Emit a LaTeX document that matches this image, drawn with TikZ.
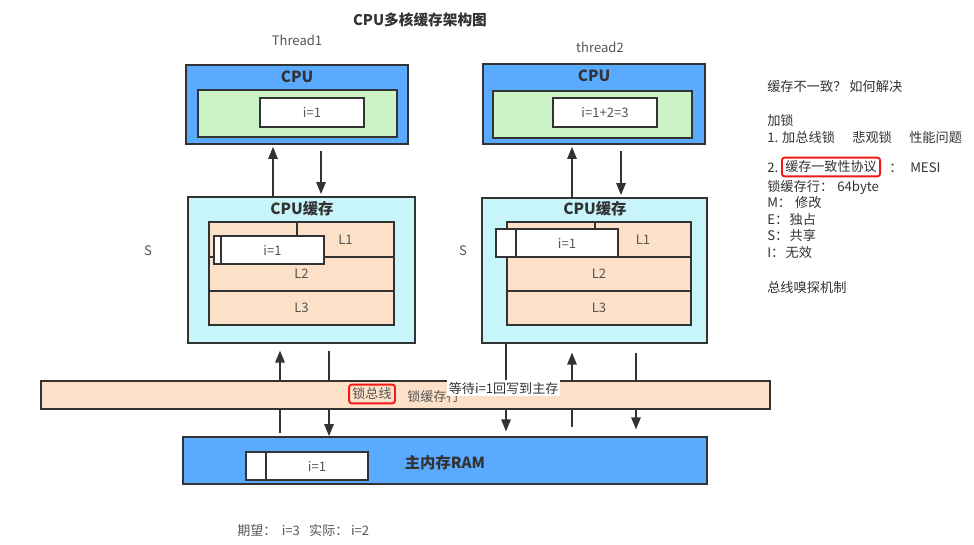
\documentclass[tikz,border=0pt]{standalone}
\usepackage{fontspec}
\setmainfont{Noto Sans CJK SC}
\usetikzlibrary{fit,arrows.meta}
\definecolor{cpublue}{HTML}{5AABFF}
\definecolor{cpugreen}{HTML}{CCF2C8}
\definecolor{cachecyan}{HTML}{C8F5FA}
\definecolor{lorange}{HTML}{FCE1C8}
\definecolor{edge}{HTML}{333333}
\definecolor{tgrey}{HTML}{555555}
\definecolor{tdark}{HTML}{333333}
\definecolor{mark}{HTML}{F01818}
\tikzset{
  box/.style={draw=edge, line width=1.3pt, inner sep=0pt},
  arr/.style={draw=edge, line width=1.3pt, -{Triangle[length=9pt,width=7pt]}},
  txt/.style={font=\fontsize{9.8}{12}\selectfont, text=tgrey, inner sep=0pt},
  rtxt/.style={font=\fontsize{9.9}{12}\selectfont, text=tdark, inner sep=0pt, anchor=west},
  val/.style={font=\fontsize{9.8}{12}\selectfont, text=tgrey, inner sep=0pt},
  heavy/.style={font=\fontsize{11.5}{14}\selectfont\bfseries, text=tdark, inner sep=0pt},
  titlestyle/.style={font=\fontsize{11}{14}\selectfont\bfseries, text=tdark, inner sep=0pt},
  redbox/.style={draw=mark, line width=1.4pt, rounded corners=2pt, inner sep=2.5pt,
    font=\fontsize{9.8}{12}\selectfont, text=tgrey}
}
\newcommand{\bx}[6]{\node[box,#6,fit={(#2,#3)(#4,#5)}] (#1) {};}
\begin{document}
\begin{tikzpicture}[x=0.75pt,y=-0.75pt]
\useasboundingbox (0,0) rectangle (974,545);
\fill[white] (0,0) rectangle (974,545);

% title and thread labels
\node[titlestyle] (title) at (420,20) {CPU多核缓存架构图};
\node[txt] (th1) at (297,40) {Thread1};
\node[txt] (th2) at (600,47) {thread2};

% CPU 1
\bx{cpu1}{186}{65}{408}{144}{fill=cpublue}
\bx{cpu1g}{198}{90}{397}{137}{fill=cpugreen}
\bx{cpu1r}{260}{98}{364}{127}{fill=white}
\node[heavy] (cpu1t) at (297,77) {CPU};
\node[val] (cpu1v) at (cpu1r) {i=1};

% CPU 2
\bx{cpu2}{483}{64}{705}{144}{fill=cpublue}
\bx{cpu2g}{493}{91}{692}{138}{fill=cpugreen}
\bx{cpu2r}{553}{98}{657}{127}{fill=white}
\node[heavy] (cpu2t) at (594,76) {CPU};
\node[val] (cpu2v) at (cpu2r) {i=1+2=3};

% Cache 1
\bx{ca1}{188}{197}{415}{343}{fill=cachecyan}
\node[heavy] (ca1t) at (302,209) {CPU缓存};
\bx{ca1a}{209}{222}{297}{257}{fill=lorange}
\bx{ca1b}{297}{222}{394}{257}{fill=lorange}
\bx{ca1c}{209}{257}{394}{291}{fill=lorange}
\bx{ca1d}{209}{291}{394}{325}{fill=lorange}
\node[val] (ca1l1) at (ca1b) {L1};
\node[val] (ca1l2) at (ca1c) {L2};
\node[val] (ca1l3) at (ca1d) {L3};
\bx{ca1ws}{214}{236}{221}{264}{fill=white}
\bx{ca1wm}{221}{236}{324}{264}{fill=white}
\node[val] (ca1v) at (ca1wm) {i=1};
\node[txt] (s1) at (148,251) {S};

% Cache 2
\bx{ca2}{482}{198}{707}{343}{fill=cachecyan}
\node[heavy] (ca2t) at (595,209) {CPU缓存};
\bx{ca2a}{507}{222}{595}{257}{fill=lorange}
\bx{ca2b}{595}{222}{691}{257}{fill=lorange}
\bx{ca2c}{507}{257}{691}{291}{fill=lorange}
\bx{ca2d}{507}{291}{691}{325}{fill=lorange}
\node[val] (ca2l1) at (ca2b) {L1};
\node[val] (ca2l2) at (ca2c) {L2};
\node[val] (ca2l3) at (ca2d) {L3};
\bx{ca2ws}{496}{229}{516}{257}{fill=white}
\bx{ca2wm}{516}{229}{618}{257}{fill=white}
\node[val] (ca2v) at (ca2wm) {i=1};
\node[txt] (s2) at (463,251) {S};

% RAM
\bx{ram}{183}{437}{707}{484}{fill=cpublue}
\bx{ramws}{246}{452}{266}{480}{fill=white}
\bx{ramwm}{266}{452}{368}{480}{fill=white}
\node[val] (ramv) at (ramwm) {i=1};
\node[heavy] (ramt) at (445,463) {主内存RAM};

% arrow columns
\coordinate (a1) at (273,0);
\coordinate (a2) at (321,0);
\coordinate (a3) at (572,0);
\coordinate (a4) at (621,0);
\coordinate (b1) at (280,0);
\coordinate (b2) at (329,0);
\coordinate (b3) at (506,0);
\coordinate (b4) at (572,0);
\coordinate (b5) at (636,0);

% CPU <-> cache
\draw[arr, shorten >=1.5pt] (ca1.north -| a1) -- (cpu1.south -| a1);
\draw[arr, shorten <=4.5pt, shorten >=1.5pt] (cpu1.south -| a2) -- (ca1.north -| a2);
\draw[arr, shorten >=1.5pt] (ca2.north -| a3) -- (cpu2.south -| a3);
\draw[arr, shorten <=4.5pt, shorten >=1.5pt] (cpu2.south -| a4) -- (ca2.north -| a4);

% cache <-> RAM (through bus)
\draw[arr, shorten <=2pt, shorten >=5pt] (ram.north -| b1) -- (ca1.south -| b1);
\draw[arr, shorten <=5pt] (ca1.south -| b2) -- (ram.north -| b2);
\draw[arr, shorten >=3.5pt] (ca2.south -| b3) -- (ram.north -| b3);
\draw[arr, shorten <=6.5pt, shorten >=6.5pt] (ram.north -| b4) -- (ca2.south -| b4);
\draw[arr, shorten <=6.5pt, shorten >=5pt] (ca2.south -| b5) -- (ram.north -| b5);

% bus
\bx{bus}{41}{381}{770}{409}{fill=lorange}
\node[redbox] (lockbus) at (372,394) {锁总线};
\node[txt, anchor=west] (lockline) at (407,397) {锁缓存行};
\node[txt, fill=white, text=tdark, anchor=west, inner sep=1.2pt] (wait) at (447,388) {等待i=1回写到主存};

% bottom note
\node[txt, anchor=west] (expect) at (237,531) {期望：\hspace{4pt}i=3\hspace{7pt}实际：\hspace{2pt}i=2};

% right notes
\node[rtxt] (n1) at (767,87) {缓存不一致？ 如何解决};
\node[rtxt] (n2) at (767,120) {加锁};
\node[rtxt] (n3) at (767,137) {1. 加总线锁\hspace{13pt}悲观锁\hspace{13pt}性能问题};
\node[rtxt] (n4) at (767,168) {2.};
\node[redbox, text=tdark] (n5) at (831,167) {缓存一致性协议};
\node[rtxt] (n6) at (889,168) {：};
\node[rtxt] (n7) at (910,168) {MESI};
\node[rtxt] (n8) at (767,187) {锁缓存行：\hspace{3pt}64byte};
\node[rtxt] (n9) at (767,203) {M：\hspace{3pt}修改};
\node[rtxt] (n10) at (767,219) {E：\hspace{1pt}独占};
\node[rtxt] (n11) at (767,235) {S：\hspace{1pt}共享};
\node[rtxt] (n12) at (767,252) {I：\hspace{1pt}无效};
\node[rtxt] (n13) at (767,287) {总线嗅探机制};
\end{tikzpicture}
\end{document}
